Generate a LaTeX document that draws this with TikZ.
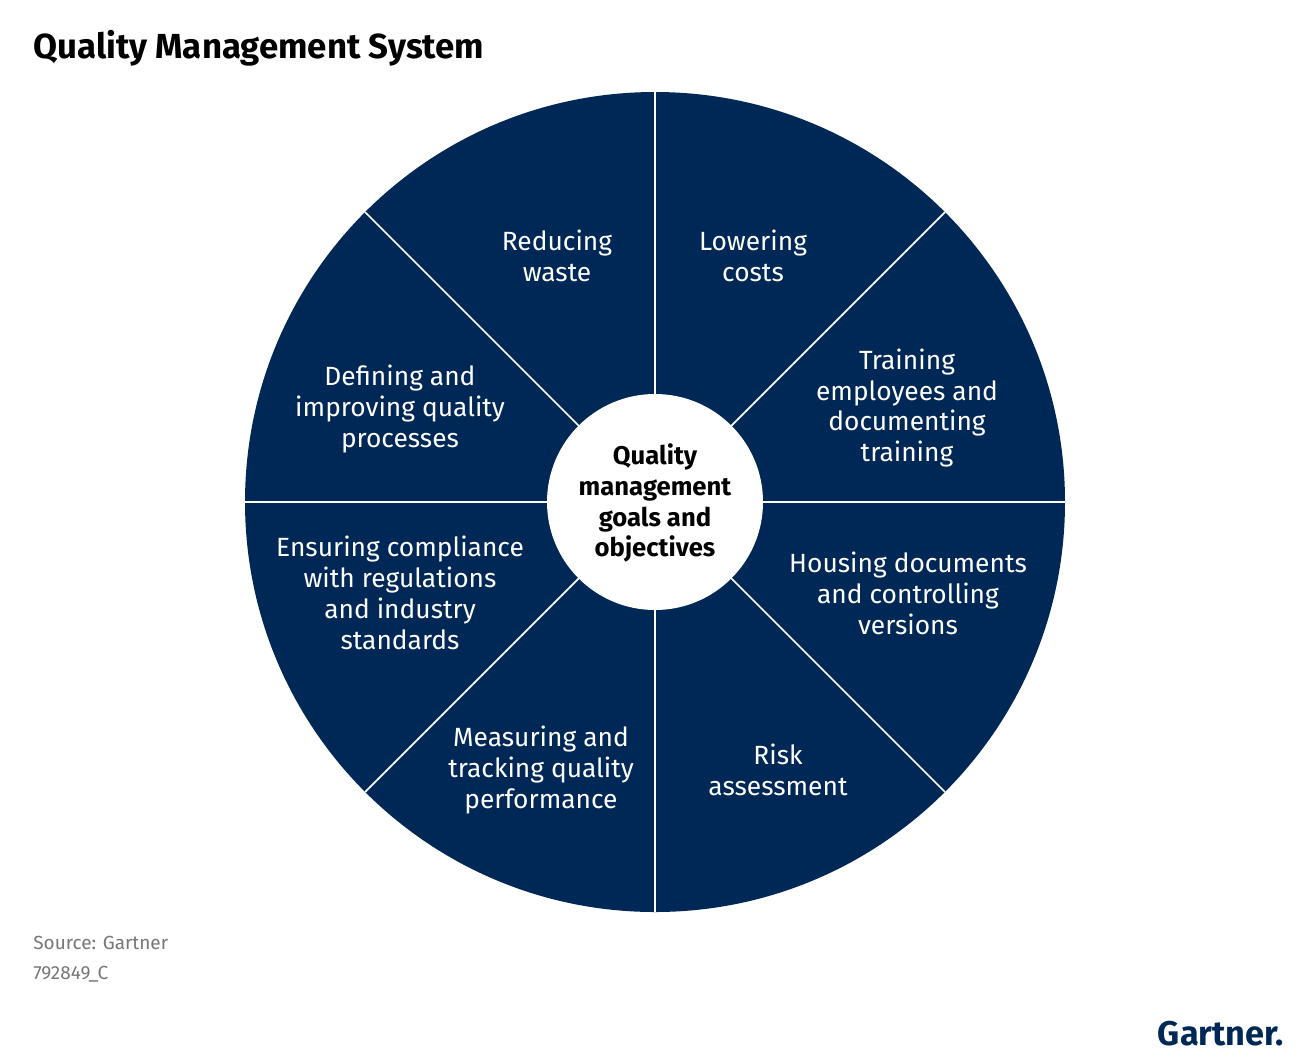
\documentclass[tikz,border=0pt]{standalone}
\usepackage{fontspec}
\setmainfont{Fira Sans}
\usetikzlibrary{positioning}
\definecolor{navy}{HTML}{002856}
\definecolor{srcgray}{HTML}{777777}
\tikzstyle{sector}=[text=white, align=center, font=\fontsize{15}{17.6}\selectfont]
\tikzstyle{spoke}=[draw=white, line width=1pt]

\begin{document}
\begin{tikzpicture}[x=0.02cm, y=-0.02cm]
            \useasboundingbox[fill=white] (0,0) rectangle (1310,1062);
            \node[anchor=west, inner sep=0pt, font=\fontsize{19.8}{22}\selectfont\bfseries] (title) at (33,48) {Quality Management System};

            \fill[navy] (655,502) circle (410);
            \foreach \a in {0,45,...,315}
                \draw[spoke] (655,502) -- ++(\a:410);
            \node[circle, fill=white, minimum size=216*0.02cm, inner sep=0pt] (hub) at (655,502) {};
            \node[align=center, font=\fontsize{14.6}{17.6}\selectfont\bfseries] (goals) at (655,503) {Quality\\management\\goals and\\objectives};

            \node[sector] (waste) at (557,256) {Reducing\\waste};
            \node[sector] (costs) at (753,256) {Lowering\\costs};
            \node[sector] (training) at (907,408) {Training\\employees and\\documenting\\training};
            \node[sector] (defining) at (400,409) {Defining and\\improving quality\\processes};
            \node[sector] (ensuring) at (400,593) {Ensuring compliance\\with regulations\\and industry\\standards};
            \node[sector] (housing) at (908,593) {Housing documents\\and controlling\\versions};
            \node[sector] (measuring) at (541,770) {Measuring and\\tracking quality\\performance};
            \node[sector] (risk) at (778,770) {Risk\\assessment};

            \node[anchor=west, inner sep=0pt, text=srcgray, font=\fontsize{10.8}{12}\selectfont] (source) at (33,943) {Source: Gartner};
            \node[anchor=west, inner sep=0pt, text=srcgray, font=\fontsize{10.8}{12}\selectfont] (code) at (33,974) {792849\_C};
            \node[anchor=east, inner sep=0pt, text=navy, font=\fontsize{19.5}{22}\selectfont\bfseries] (logo) at (1284,1034) {Gartner.};
        \end{tikzpicture}
\end{document}
